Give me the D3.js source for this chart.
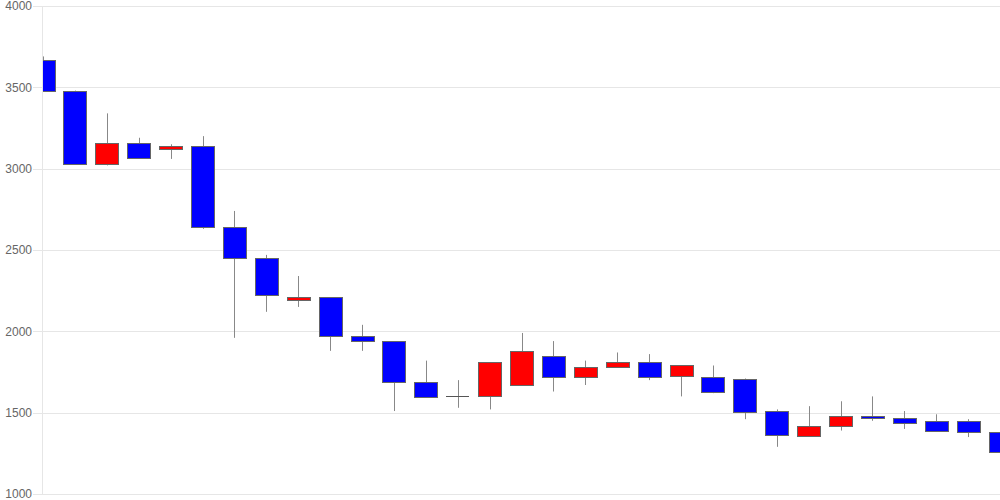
<!DOCTYPE html>
<html>
<head>
<meta charset="utf-8">
<script src="https://cdn.jsdelivr.net/npm/d3@7"></script>
<style>
  body { margin: 0; background: #fff; }
  svg { display: block; }
</style>
</head>
<body>
<svg id="chart" width="1000" height="500"></svg>
<script>
'use strict'

// daily candles, oldest first
var opens  = [3670, 3480, 3030, 3160, 3120, 3140, 2640, 2450, 2190, 2210, 1970, 1940, 1690, 1600, 1600, 1670,
              1850, 1720, 1780, 1810, 1720, 1720, 1710, 1510, 1360, 1420, 1480, 1470, 1450, 1450, 1380];
var closes = [3480, 3030, 3160, 3070, 3140, 2640, 2450, 2220, 2210, 1970, 1940, 1690, 1600, 1600, 1810, 1880,
              1720, 1780, 1810, 1720, 1790, 1630, 1510, 1360, 1420, 1480, 1470, 1440, 1390, 1380, 1260];
var highs  = [3690, 3480, 3340, 3190, 3150, 3200, 2740, 2470, 2340, 2210, 2040, 1940, 1820, 1700, 1810, 1990,
              1940, 1820, 1870, 1860, 1790, 1790, 1710, 1520, 1540, 1570, 1600, 1510, 1490, 1460, 1460];
var lows   = [3480, 3030, 3020, 3070, 3060, 2630, 1960, 2120, 2150, 1880, 1880, 1510, 1600, 1530, 1520, 1670,
              1630, 1670, 1780, 1700, 1600, 1620, 1460, 1290, 1360, 1390, 1450, 1400, 1390, 1350, 1260];
var yTicks = [1000, 1500, 2000, 2500, 3000, 3500, 4000];

var width = 1000,
    height = 500,
    plotLeft = 43,
    plotTop = 6,
    plotBottom = 494,
    bodyW = 23;

var svg = d3.select("#chart");

var x = d3.scaleLinear().domain([0, opens.length - 1]).range([plotLeft, width]);
var y = d3.scaleLinear().domain([1000, 4000]).range([plotBottom, plotTop]);

// grid + labels
var grid = svg.append("g");
grid.selectAll("line")
  .data(yTicks)
  .enter().append("line")
    .attr("x1", 33).attr("x2", width)
    .attr("y1", d => Math.round(y(d)) + 0.5)
    .attr("y2", d => Math.round(y(d)) + 0.5)
    .attr("stroke", "#e6e6e6");

grid.append("line")
  .attr("x1", plotLeft - 0.5).attr("x2", plotLeft - 0.5)
  .attr("y1", plotTop).attr("y2", plotBottom)
  .attr("stroke", "#e6e6e6");

grid.selectAll("text")
  .data(yTicks)
  .enter().append("text")
    .attr("x", 32)
    .attr("y", d => y(d))
    .attr("dy", "0.35em")
    .attr("text-anchor", "end")
    .attr("font-family", "Liberation Sans, Arial, sans-serif")
    .attr("font-size", 12)
    .attr("fill", "#666")
    .text(d => d);

svg.append("clipPath").attr("id", "plot")
  .append("rect")
    .attr("x", plotLeft).attr("y", 0)
    .attr("width", width - plotLeft).attr("height", height);

var candles = svg.append("g").attr("clip-path", "url(#plot)")
  .selectAll("g")
  .data(d3.range(opens.length))
  .enter().append("g");

// wicks
candles.append("line")
  .attr("x1", i => Math.round(x(i)) + 0.5)
  .attr("x2", i => Math.round(x(i)) + 0.5)
  .attr("y1", i => y(highs[i]))
  .attr("y2", i => y(lows[i]))
  .attr("stroke", "#888");

// bodies (doji get a flat line instead)
var flat = i => opens[i] === closes[i];

candles.filter(i => !flat(i)).append("rect")
  .attr("x", i => Math.round(x(i) - bodyW / 2) + 0.5)
  .attr("y", i => Math.round(y(Math.max(opens[i], closes[i]))) + 0.5)
  .attr("width", bodyW)
  .attr("height", i => Math.max(1, Math.round(y(Math.min(opens[i], closes[i])) - y(Math.max(opens[i], closes[i])))))
  .attr("fill", i => closes[i] > opens[i] ? "#ff0000" : "#0000ff")
  .attr("stroke", "#666");

candles.filter(flat).append("line")
  .attr("x1", i => Math.round(x(i) - bodyW / 2))
  .attr("x2", i => Math.round(x(i) + bodyW / 2))
  .attr("y1", i => Math.round(y(opens[i])) + 0.5)
  .attr("y2", i => Math.round(y(opens[i])) + 0.5)
  .attr("stroke", "#555");
</script>
</body>
</html>
